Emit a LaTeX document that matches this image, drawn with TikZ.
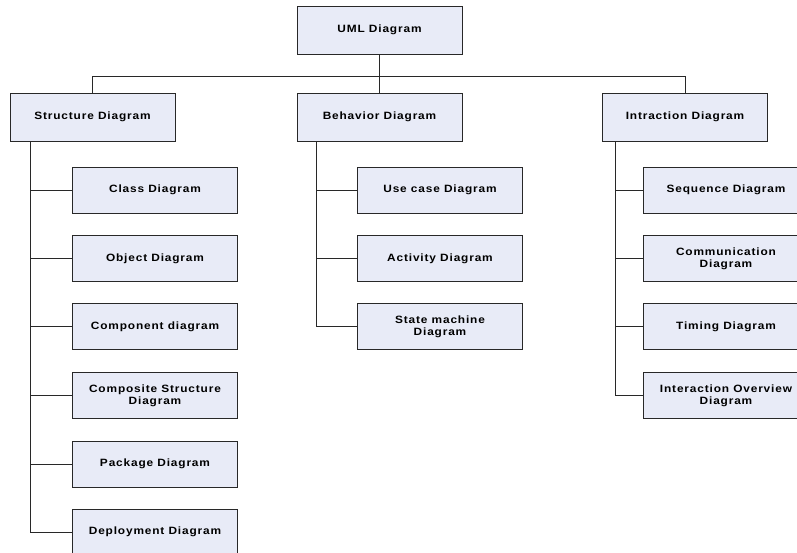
\documentclass[tikz,border=0pt]{standalone}
\usepackage{fontspec}
\setmainfont{Liberation Sans}[FakeStretch=1.12,LetterSpace=8]
\usepackage{tikz}
\usetikzlibrary{calc, positioning}

\definecolor{boxfill}{RGB}{232,235,247}
\definecolor{boxline}{RGB}{40,40,40}

\tikzset{
  diag/.style={draw=boxline, line width=0.9pt, fill=boxfill, align=center,
    minimum width=165pt, minimum height=46pt, inner sep=2pt,
    font=\fontsize{10.6}{12}\selectfont\bfseries},
  head/.style={diag, minimum height=48pt},
  link/.style={draw=boxline, line width=0.8pt}
}

\begin{document}
\begin{tikzpicture}[x=1pt, y=-1pt]
\useasboundingbox (0,0) rectangle (797,553);

% Top level
\node[head] (uml) at (379.5,30) {UML Diagram};
\node[head] (sd) at (92.5,117) {Structure Diagram};
\node[head] (bd) at (379.5,117) {Behavior Diagram};
\node[head] (id) at (685,117) {Intraction Diagram};

% Structure diagrams
\node[diag] (class) at (155,190) {Class Diagram};
\node[diag] (object) at (155,258.5) {Object Diagram};
\node[diag] (component) at (155,326.5) {Component diagram};
\node[diag] (composite) at (155,395.5) {Composite Structure\\Diagram};
\node[diag] (package) at (155,464) {Package Diagram};
\node[diag] (deploy) at (155,532) {Deployment Diagram};

% Behavior diagrams
\node[diag] (usecase) at (440,190) {Use case Diagram};
\node[diag] (activity) at (440,258.5) {Activity Diagram};
\node[diag] (state) at (440,326.5) {State machine\\Diagram};

% Interaction diagrams
\node[diag] (sequence) at (726,190) {Sequence Diagram};
\node[diag] (comm) at (726,258.5) {Communication\\Diagram};
\node[diag] (timing) at (726,326.5) {Timing Diagram};
\node[diag] (overview) at (726,395.5) {Interaction Overview\\Diagram};

% Bus
\draw[link] (uml.south) -- (bd.north);
\draw[link] (sd.north) -- ++(0,-16) -| (id.north);

% Branches
\foreach \n in {class,object,component,composite,package,deploy}
  \draw[link] ($(sd.south west)+(21,0)$) |- (\n.west);
\foreach \n in {usecase,activity,state}
  \draw[link] ($(bd.south west)+(20,0)$) |- (\n.west);
\foreach \n in {sequence,comm,timing,overview}
  \draw[link] ($(id.south west)+(13,0)$) |- (\n.west);

\end{tikzpicture}
\end{document}
